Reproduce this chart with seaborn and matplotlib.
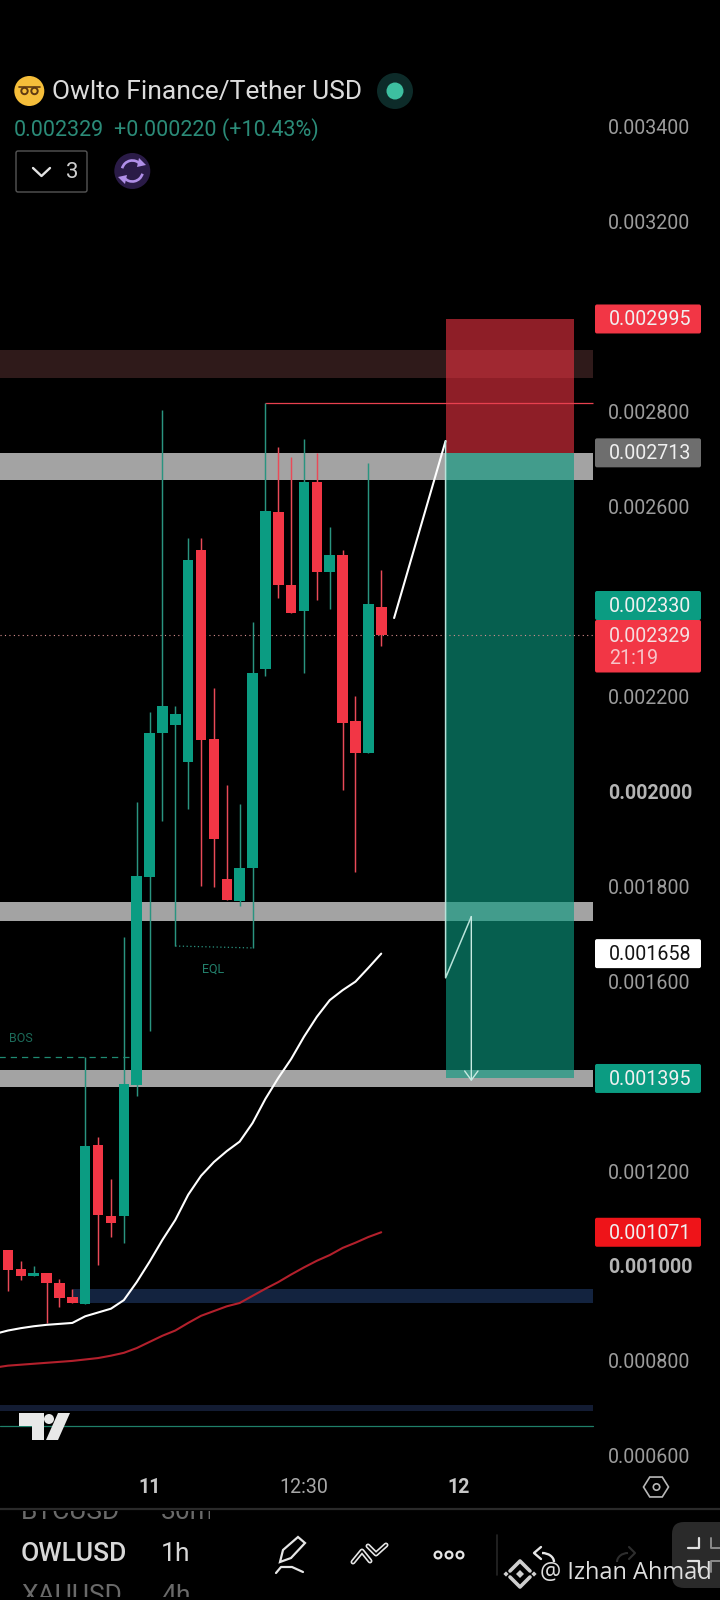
"""
Owlto Finance / Tether USD 1h chart, dark phone screenshot layout
"""

import matplotlib
matplotlib.use("Agg")
import matplotlib.pyplot as plt
import numpy as np
import pandas as pd
import seaborn as sns
from matplotlib.patches import Arc, Circle, FancyBboxPatch, Polygon, Rectangle

# candle data, one value per bar
opens = [0.001034, 0.000993, 0.000978, 0.000986, 0.000965, 0.000934, 0.000920, 0.001255, 0.001105, 0.001105,
         0.001381, 0.001820, 0.002123, 0.002140, 0.002061, 0.002508, 0.002110, 0.001815, 0.001768, 0.001838,
         0.002258, 0.002588, 0.002435, 0.002379, 0.002651, 0.002463, 0.002497, 0.002149, 0.002081, 0.002388]
closes = [0.000992, 0.000978, 0.000986, 0.000964, 0.000933, 0.000922, 0.001253, 0.001108, 0.001091, 0.001384,
          0.001822, 0.002123, 0.002180, 0.002163, 0.002487, 0.002108, 0.001900, 0.001770, 0.001838, 0.002249,
          0.002590, 0.002435, 0.002376, 0.002651, 0.002463, 0.002497, 0.002144, 0.002081, 0.002394, 0.002329]
highs = [0.001034, 0.001011, 0.000999, 0.000986, 0.000972, 0.000951, 0.001441, 0.001271, 0.001183, 0.001692,
         0.001978, 0.002166, 0.002803, 0.002180, 0.002534, 0.002534, 0.002217, 0.002014, 0.001973, 0.002357,
         0.002817, 0.002726, 0.002705, 0.002743, 0.002713, 0.002556, 0.002508, 0.002201, 0.002691, 0.002466]
lows = [0.000948, 0.000971, 0.000978, 0.000879, 0.000914, 0.000922, 0.000920, 0.001002, 0.001062, 0.001048,
        0.001358, 0.001496, 0.001938, 0.001674, 0.001963, 0.001800, 0.001799, 0.001770, 0.001758, 0.001670,
        0.002243, 0.002407, 0.002376, 0.002249, 0.002403, 0.002385, 0.002003, 0.001831, 0.002081, 0.002306]

# moving averages, bars -1 to 29
ema_bars = list(range(-1, 30))
ema_fast = [0.000857, 0.000864, 0.000869, 0.000873, 0.000876, 0.000878, 0.000880, 0.000894, 0.000902, 0.000910,
            0.000928, 0.000966, 0.001009, 0.001055, 0.001097, 0.001150, 0.001190, 0.001219, 0.001242, 0.001262,
            0.001301, 0.001352, 0.001396, 0.001436, 0.001483, 0.001525, 0.001560, 0.001581, 0.001599, 0.001628,
            0.001658]
ema_slow = [0.000786, 0.000790, 0.000792, 0.000794, 0.000796, 0.000798, 0.000800, 0.000803, 0.000806, 0.000811,
            0.000817, 0.000827, 0.000840, 0.000853, 0.000864, 0.000880, 0.000895, 0.000905, 0.000915, 0.000922,
            0.000937, 0.000952, 0.000966, 0.000982, 0.000997, 0.001011, 0.001023, 0.001038, 0.001049, 0.001061,
            0.001071]

# drawn levels and zones
grey_zones = [(0.002656, 0.002713), (0.001727, 0.001766), (0.001378, 0.001413)]
brown_zone = (0.002871, 0.002930)
navy_zone = (0.000923, 0.000951)
navy_zone_low = (0.000695, 0.000707)
teal_level = 0.000662
high_level = 0.002817
bos_level = 0.001440
eql_prices = [0.001674, 0.001670]

# short position tool and projected path
entry_price = 0.002713
stop_price = 0.002995
target_price = 0.001395
last_price = 0.002329
path_in_bars = [30, 34]
path_in_prices = [0.002365, 0.002738]
path_out_bars = [34, 34, 36]
path_out_prices = [0.002738, 0.001607, 0.001736]

y_ticks = [0.0034, 0.0032, 0.0028, 0.0026, 0.0022, 0.0020, 0.0018, 0.0016, 0.0012, 0.0010, 0.0008, 0.0006]
x_ticks = [11, 23, 35]
x_labels = ["11", "12:30", "12"]

GREEN = "#0b9c82"
RED = "#f23645"
BAR_PX = 12.87
ZONE_END = 593 / 720

sns.set_theme(style="dark", rc={
    "axes.facecolor": "black",
    "figure.facecolor": "black",
    "axes.edgecolor": "#2a2a2a",
    "axes.grid": False,
})
plt.rcParams["font.family"] = ["Roboto", "DejaVu Sans"]

fig = plt.figure(figsize=(7.2, 16), dpi=100)
ax = fig.add_axes([0, 91 / 1600, 1, 1509 / 1600])
ax.set_xlim(-8 / BAR_PX, 712 / BAR_PX)
ax.set_ylim(0.000488, 0.003667)
for side in ["top", "left", "right"]:
    ax.spines[side].set_visible(False)
ax.spines["bottom"].set_linewidth(1.6)

# zones
for lo, hi in grey_zones:
    ax.axhspan(lo, hi, xmin=0, xmax=ZONE_END, color="#a3a3a3", lw=0, zorder=1)
ax.axhspan(*brown_zone, xmin=0, xmax=ZONE_END, color="#2f1a1a", lw=0, zorder=1)
ax.axhspan(*navy_zone, xmin=73 / 720, xmax=ZONE_END, color="#13233f", lw=0, zorder=1)
ax.axhspan(*navy_zone_low, xmin=0, xmax=ZONE_END, color="#131c33", lw=0, zorder=1)
ax.axhline(teal_level, xmin=0, xmax=ZONE_END, color="#1f7f68", lw=0.9, zorder=1)

# short position boxes
ax.bar(39, stop_price - entry_price, width=10, bottom=entry_price, color="#e3313f", alpha=0.63, lw=0, zorder=2)
ax.bar(39, entry_price - target_price, width=10, bottom=target_price, color="#0a987f", alpha=0.63, lw=0, zorder=2)

ax.axhline(last_price, xmin=0, xmax=ZONE_END, color="#d98f8f", lw=0.8, ls=(0, (1, 3)), zorder=2.5)
ax.hlines(high_level, 20, ZONE_END * 720 / BAR_PX - 8 / BAR_PX, color="#e8404f", lw=0.9, zorder=3)

# candles
bars = np.arange(len(opens))
body_lo = np.minimum(opens, closes)
body_hi = np.maximum(opens, closes)
colors = [GREEN if c >= o else RED for o, c in zip(opens, closes)]
wick_colors = ["#2a9480" if c >= o else "#ea4a58" for o, c in zip(opens, closes)]
ax.vlines(bars, lows, highs, colors=wick_colors, lw=1.05, zorder=3)
ax.bar(bars, body_hi - body_lo, width=0.82, bottom=body_lo, color=colors, lw=0, zorder=4)

# moving averages
ema_df = pd.DataFrame({"bar": ema_bars, "fast": ema_fast, "slow": ema_slow})
sns.lineplot(data=ema_df, x="bar", y="slow", color="#b3202c", lw=1.5, ax=ax, zorder=5)
sns.lineplot(data=ema_df, x="bar", y="fast", color="white", lw=1.5, ax=ax, zorder=5)

# projected path
sns.lineplot(x=path_in_bars, y=path_in_prices, color="white", lw=1.5, sort=False, estimator=None, ax=ax, zorder=5)
sns.lineplot(x=path_out_bars, y=path_out_prices, color="#b9e3da", lw=1.1, sort=False, estimator=None, ax=ax, zorder=5)
ax.annotate("", xy=(36, target_price - 0.000006), xytext=(36, path_out_prices[-1]),
            arrowprops=dict(arrowstyle="->,head_width=0.4,head_length=0.55", color="#c8ebe3", lw=1.0,
                            shrinkA=0, shrinkB=0), zorder=5)

# BOS and EQL marks
ax.hlines(bos_level, -1, 9.7, color="#1f8a72", lw=0.9, ls=(0, (5, 4)), zorder=3)
ax.plot([13, 19], eql_prices, color="#2a9480", lw=0.9, ls=(0, (1, 2)), zorder=3)
ax.text(1.0, 0.00148, "BOS", color="#1c6b5a", fontsize=9, ha="center", va="center")
ax.text(15.9, 0.001626, "EQL", color="#23806c", fontsize=9, ha="center", va="center")

# axis labels sit inside the plot like the app does
ax.yaxis.tick_right()
ax.set_yticks(y_ticks)
ax.set_yticklabels([f"{v:.6f}" for v in y_ticks])
ax.tick_params(axis="y", length=0, pad=-80.5, labelsize=14.1, labelcolor="#9c9c9c")
for tick, v in zip(ax.get_yticklabels(), y_ticks):
    tick.set_ha("left")
    if v in (0.0020, 0.0010):
        tick.set_fontweight("bold")
        tick.set_color("#b4b4b4")
ax.set_xticks(x_ticks)
ax.set_xticklabels(x_labels)
ax.tick_params(axis="x", length=0, pad=-22, labelsize=14.1, labelcolor="#a8a8a8")
for tick, label in zip(ax.get_xticklabels(), x_labels):
    if label != "12:30":
        tick.set_fontweight("bold")
        tick.set_color("#c8c8c8")
ax.set_xlabel("")
ax.set_ylabel("")

# overlay in screen pixels for the app furniture
ui = fig.add_axes([0, 0, 1, 1], facecolor="none")
ui.set_xlim(0, 720)
ui.set_ylim(1600, 0)
ui.axis("off")


def to_px(price):
    return 1600 - ax.transData.transform((0, price))[1]


def price_tag(price, label, color, text_color="#f0f0f0", y=None):
    if y is None:
        y = to_px(price)
    ui.add_patch(FancyBboxPatch((595, y - 14.5), 106, 29, boxstyle="round,pad=0,rounding_size=2",
                                fc=color, ec="none", zorder=6))
    ui.text(609, y + 1, label, color=text_color, fontsize=14.1, va="center", ha="left", zorder=7)


price_tag(stop_price, "0.002995", RED)
price_tag(entry_price, "0.002713", "#6e6e6e")
price_tag(target_price, "0.001395", "#0b9c82")
price_tag(ema_fast[-1], "0.001658", "white", "#141414")
price_tag(ema_slow[-1], "0.001071", "#ee1419")
# stacked above the last price tag, so it does not sit at its own level
price_tag(0.002330, "0.002330", "#0b9c82", y=605.5)
ui.add_patch(FancyBboxPatch((595, 620), 106, 52.5, boxstyle="round,pad=0,rounding_size=2",
                            fc=RED, ec="none", zorder=6))
ui.text(609, 636, "0.002329", color="#f4dfe1", fontsize=14.1, va="center", zorder=7)
ui.text(609, 659, "21:19", color="#f7c4c9", fontsize=14.1, va="center", zorder=7)

# header
ui.add_patch(Circle((29.3, 91), 15, fc="#f5be3a", ec="none"))
for cx in (24.5, 34.5):
    ui.add_patch(Circle((cx, 91), 3.2, fc="#f5be3a", ec="#5f3a12", lw=1.4))
ui.plot([19, 40], [87, 87], color="#5f3a12", lw=1.2)
ui.text(52, 92, "Owlto Finance/Tether USD", color="#dcdcdc", fontsize=19, va="center")
ui.add_patch(Circle((395, 91), 18, fc="#0d2b29", ec="none"))
ui.add_patch(Circle((395, 91), 8.5, fc="#3dbfa0", ec="none"))
ui.text(14, 130, "0.002329", color="#2b8b78", fontsize=15.5, va="center")
ui.text(114, 130, "+0.000220 (+10.43%)", color="#2b8b78", fontsize=15.5, va="center")
ui.add_patch(FancyBboxPatch((16, 151), 71, 41, boxstyle="round,pad=0,rounding_size=2",
                            fc="none", ec="#565656", lw=1.0))
ui.plot([33, 41.5, 50], [168, 176, 168], color="#e2e2e2", lw=1.7)
ui.text(72, 172, "3", color="#cfcfcf", fontsize=16, ha="center", va="center")
ui.add_patch(Circle((132.3, 171), 18, fc="#2a1b47", ec="none"))
ui.add_patch(Arc((132.3, 171), 21, 21, theta1=195, theta2=320, color="#b08fe8", lw=1.9))
ui.add_patch(Arc((132.3, 171), 21, 21, theta1=15, theta2=140, color="#b08fe8", lw=1.9))
ui.add_patch(Polygon([(139, 158), (146, 165), (137, 167)], fc="#b08fe8", ec="none"))
ui.add_patch(Polygon([(125, 184), (118, 177), (127, 175)], fc="#b08fe8", ec="none"))

# TradingView mark
logo = "#e8e8e8"
ui.add_patch(Polygon([(19, 1413), (44, 1413), (44, 1440), (32, 1440), (32, 1426), (19, 1426)],
                     fc=logo, ec="none", zorder=6))
ui.add_patch(Circle((49, 1419), 5, fc=logo, ec="none", zorder=6))
ui.add_patch(Polygon([(58, 1413), (70, 1413), (58, 1440), (46, 1440)], fc=logo, ec="none", zorder=6))

# settings hexagon
angles = np.deg2rad(np.arange(0, 360, 60))
ui.add_patch(Polygon(np.c_[656 + 12.5 * np.cos(angles), 1487 + 11.5 * np.sin(angles)],
                     fc="none", ec="#b8b8b8", lw=1.2))
ui.add_patch(Circle((656.5, 1487), 3.2, fc="none", ec="#b8b8b8", lw=1.2))

# toolbar rows, the outer two are scrolled half out of view
clip = Rectangle((0, 1511), 127, 86, transform=ui.transData)
clip2 = Rectangle((150, 1511), 60, 86, transform=ui.transData)
for label, y, color, weight in [("BTCUSD", 1512, "#6a6a6a", "normal"), ("OWLUSD", 1554, "#d8d8d8", "medium"),
                                ("XAUUSD", 1596, "#6a6a6a", "normal")]:
    t = ui.text(21, y, label, color=color, fontsize=19, fontweight=weight, va="center", clip_on=True)
    t.set_clip_path(clip)
for label, y, color in [("30m", 1512, "#6a6a6a"), ("1h", 1554, "#d8d8d8"), ("4h", 1596, "#6a6a6a")]:
    t = ui.text(161, y, label, color=color, fontsize=19, va="center", clip_on=True)
    t.set_clip_path(clip2)

# toolbar icons
icon = "#e6e6e6"
ui.add_patch(Polygon([(280, 1562), (283, 1550), (298, 1537), (305, 1543), (291, 1558)],
                     fc="none", ec=icon, lw=1.6))
ui.plot([276, 281, 292, 303], [1573, 1567, 1567, 1572], color=icon, lw=1.6)
for xs, ys in [([353, 362, 370], [1562, 1551, 1561]), ([368, 376, 386], [1546, 1554, 1545])]:
    ui.plot(xs, ys, color=icon, lw=3.6)
    ui.plot(xs, ys, color="black", lw=1.2)
for cx in (438, 449, 460):
    ui.add_patch(Circle((cx, 1555), 3.4, fc="none", ec=icon, lw=1.6))
ui.plot([497, 497], [1535, 1575], color="#262626", lw=1.2)
ui.add_patch(Arc((542, 1562), 24, 18, theta1=270, theta2=360, color=icon, lw=1.7))
ui.plot([541, 534, 541], [1547, 1553, 1559], color=icon, lw=1.7)
ui.add_patch(Arc((628, 1562), 22, 18, theta1=180, theta2=270, color="#2e2e2e", lw=1.5))
ui.plot([629, 635, 629], [1547, 1553, 1559], color="#2e2e2e", lw=1.5)
ui.add_patch(FancyBboxPatch((672, 1522), 60, 66, boxstyle="round,pad=0,rounding_size=12",
                            fc="#2a2a2a", ec="none"))
for xs, ys in [([688, 699, 699], [1548, 1548, 1538]), ([688, 699, 699], [1561, 1561, 1572])]:
    ui.plot(xs, ys, color="#e0e0e0", lw=1.6)
for xs, ys in [([720, 711, 711], [1548, 1548, 1538]), ([720, 711, 711], [1561, 1561, 1572])]:
    ui.plot(xs, ys, color="#8a8a8a", lw=1.4)

# watermark
mark = "#cfcfcf"
ui.plot([510, 520, 530], [1571, 1561, 1571], color=mark, lw=2.6)
ui.plot([510, 520, 530], [1577, 1587, 1577], color=mark, lw=2.6)
for cx, r in [(506, 2.6), (534, 2.6), (520, 4)]:
    ui.add_patch(Polygon([(cx, 1574 - r), (cx + r, 1574), (cx, 1574 + r), (cx - r, 1574)], fc=mark, ec="none"))
ui.text(540, 1573, "@ Izhan Ahmad", color="#dedede", fontsize=17, va="center", family=["Open Sans", "DejaVu Sans"])

fig.savefig("out.png", dpi=100, facecolor="black")
plt.close(fig)
